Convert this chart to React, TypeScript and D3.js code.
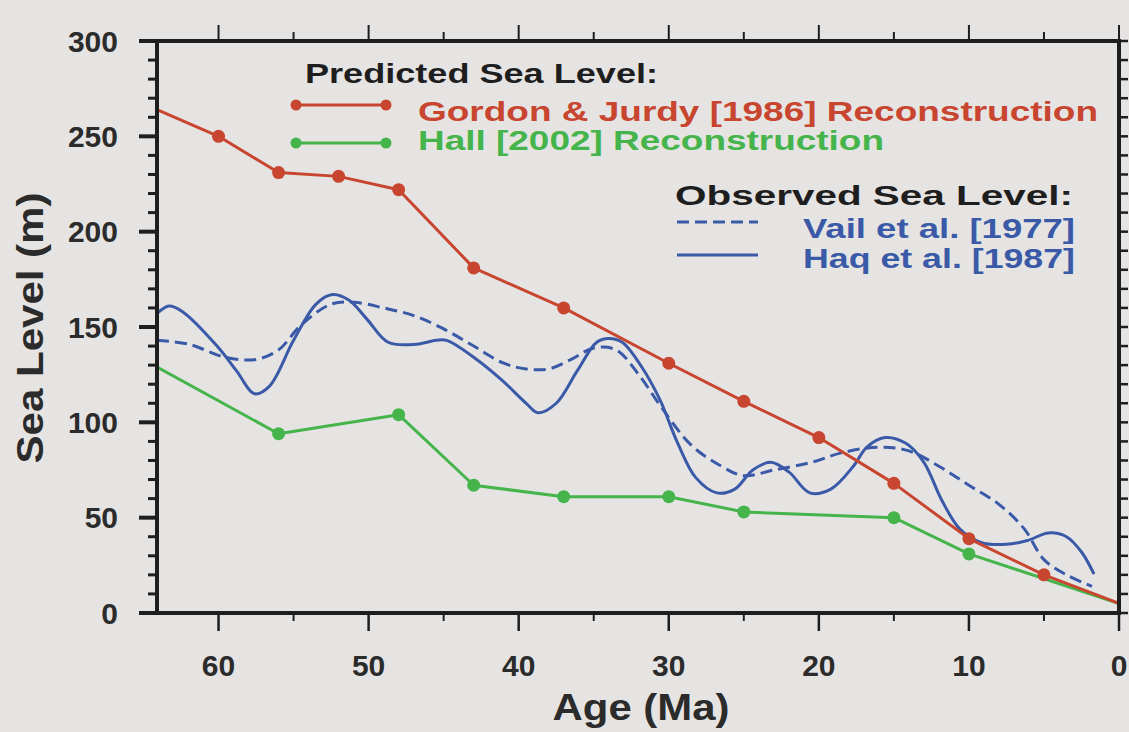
import React from "react";
import * as d3 from "d3";

// Predicted sea level (age Ma, metres)
const gordonAges = [64.1, 60, 56, 52, 48, 43, 37, 30, 25, 20, 15, 10, 5, 0];
const gordonLevels = [264, 250, 231, 229, 222, 181, 160, 131, 111, 92, 68, 39, 20, 5];
const hallAges = [64.1, 56, 48, 43, 37, 30, 25, 15, 10, 0];
const hallLevels = [129, 94, 104, 67, 61, 61, 53, 50, 31, 5];

// Observed sea level
const vailAges = [64.1, 62, 59.5, 57.5, 56, 54.5, 52.5, 51, 49, 47, 45, 43, 41, 39.5, 38, 36.5, 35, 33.5, 32, 30.5, 28.5, 26.5, 25, 23, 20.5, 18.5, 16, 14, 12, 10, 8, 6.3, 5, 3.5, 1.8];
const vailLevels = [143, 141, 134, 133, 138, 151, 162, 163, 160, 156, 149, 140, 131, 128, 128, 133, 139, 138, 125, 108, 88, 77, 72, 75, 79, 84, 87, 85, 77, 67, 57, 44, 28, 20, 14];
const haqAges = [64.1, 63.3, 62.4, 60.1, 58.8, 57.6, 56.6, 55, 53.5, 52.4, 51.3, 50.1, 48.7, 46.8, 45.5, 44.8, 42.8, 41.1, 39.5, 38.7, 37.5, 36.1, 34.8, 34, 33.1, 31.8, 30.6, 29.4, 28.2, 26.8, 25.6, 24.4, 23.2, 22, 20.6, 19.2, 17.7, 16.8, 15.6, 14.2, 13, 11.8, 10.6, 9.2, 7.5, 6.1, 4.7, 3.5, 2.5, 1.7];
const haqLevels = [157, 161, 158, 140, 127, 115, 119, 143, 162, 167, 164, 154, 142, 141, 143, 143, 133, 122, 110, 105, 110, 127, 142, 144, 142, 129, 112, 89, 71, 63, 65, 75, 79, 74, 63, 65, 77, 87, 92, 89, 79, 59, 44, 37, 36, 38, 42, 40, 32, 21];

const xMajor = [60, 50, 40, 30, 20, 10, 0];
const xMinor = [55, 45, 35, 25, 15, 5];
const yMajor = [0, 50, 100, 150, 200, 250, 300];

const RED = "#c8452f";
const GREEN = "#45b44b";
const BLUE = "#3a5aa8";
const INK = "#1e1e1e";

const zip = (a: number[], b: number[]) => a.map((v, i) => [v, b[i]] as [number, number]);

export default function App() {
  const width = 1129;
  const height = 732;
  const x = d3.scaleLinear().domain([64.1, 0]).range([157, 1119]);
  const y = d3.scaleLinear().domain([0, 300]).range([613, 41]);

  const straight = d3.line<[number, number]>().x((d) => x(d[0])).y((d) => y(d[1]));
  const smooth = d3
    .line<[number, number]>()
    .x((d) => x(d[0]))
    .y((d) => y(d[1]))
    .curve(d3.curveCatmullRom.alpha(0.5));

  const gordon = zip(gordonAges, gordonLevels);
  const hall = zip(hallAges, hallLevels);
  const yMinor = d3.range(0, 301, 10).filter((v) => v % 50 !== 0);

  const [x0, x1] = x.range();
  const [y0, y1] = y.range();
  const font = "'Liberation Sans', Arial, Helvetica, sans-serif";
  const dash = "12 6";

  return (
    <svg
      width={width}
      height={height}
      style={{ position: "fixed", left: 0, top: 0, background: "#e6e4e3", fontFamily: font }}
    >
      <defs>
        <clipPath id="plot">
          <rect x={x0} y={y1} width={x1 - x0} height={y0 - y1} />
        </clipPath>
      </defs>

      {/* ticks */}
      <g stroke={INK}>
        {xMajor.map((v) => (
          <g key={`xm${v}`}>
            <line x1={x(v)} x2={x(v)} y1={y0} y2={y0 + 18} strokeWidth={2.5} />
            <line x1={x(v)} x2={x(v)} y1={y1} y2={y1 - 16} strokeWidth={2} />
          </g>
        ))}
        {xMinor.map((v) => (
          <g key={`xn${v}`}>
            <line x1={x(v)} x2={x(v)} y1={y0} y2={y0 + 8} strokeWidth={2} />
            <line x1={x(v)} x2={x(v)} y1={y1} y2={y1 - 9} strokeWidth={2} />
          </g>
        ))}
        {yMajor.map((v) => (
          <g key={`ym${v}`}>
            <line x1={x0} x2={x0 - 18} y1={y(v)} y2={y(v)} strokeWidth={4} />
            <line x1={x1} x2={x1 + 9} y1={y(v)} y2={y(v)} strokeWidth={2.5} />
          </g>
        ))}
        {yMinor.map((v) => (
          <g key={`yn${v}`}>
            <line x1={x0} x2={x0 - 9} y1={y(v)} y2={y(v)} strokeWidth={3} />
            <line x1={x1} x2={x1 + 9} y1={y(v)} y2={y(v)} strokeWidth={2.5} />
          </g>
        ))}
      </g>

      {/* series */}
      <g clipPath="url(#plot)" fill="none" strokeLinejoin="round" strokeLinecap="round">
        <path d={smooth(zip(vailAges, vailLevels)) || ""} stroke={BLUE} strokeWidth={3} strokeDasharray={dash} strokeLinecap="butt" />
        <path d={smooth(zip(haqAges, haqLevels)) || ""} stroke={BLUE} strokeWidth={3} />
        <path d={straight(hall) || ""} stroke={GREEN} strokeWidth={3} />
        <path d={straight(gordon) || ""} stroke={RED} strokeWidth={3} />
        {hall.slice(1, -1).map((d, i) => (
          <circle key={`h${i}`} cx={x(d[0])} cy={y(d[1])} r={6.5} fill={GREEN} />
        ))}
        {gordon.slice(1, -1).map((d, i) => (
          <circle key={`g${i}`} cx={x(d[0])} cy={y(d[1])} r={6.5} fill={RED} />
        ))}
      </g>

      {/* frame */}
      <rect x={x0} y={y1} width={x1 - x0} height={y0 - y1} fill="none" stroke={INK} strokeWidth={4} />

      {/* tick labels */}
      <g fontSize={30} fontWeight="bold" fill="#2b2b2b">
        {yMajor.map((v) => (
          <text key={`yl${v}`} x={118} y={y(v)} dy="0.36em" textAnchor="end">
            {v}
          </text>
        ))}
        {xMajor.map((v) => (
          <text key={`xl${v}`} x={x(v)} y={676} textAnchor="middle">
            {v}
          </text>
        ))}
      </g>

      {/* axis titles */}
      <text x={641} y={720} textAnchor="middle" fontSize={36} fontWeight="bold" fill="#2b2b2b" textLength={177} lengthAdjust="spacingAndGlyphs">
        Age (Ma)
      </text>
      <text
        transform="translate(43,328) rotate(-90)"
        textAnchor="middle"
        fontSize={36}
        fontWeight="bold"
        fill="#2b2b2b"
        textLength={271}
        lengthAdjust="spacingAndGlyphs"
      >
        Sea Level (m)
      </text>

      {/* legend */}
      <g fontSize={28} fontWeight="bold">
        <text x={305} y={83} fill={INK} textLength={353} lengthAdjust="spacingAndGlyphs">Predicted Sea Level:</text>
        <line x1={296} x2={386} y1={105} y2={105} stroke={RED} strokeWidth={3} />
        <circle cx={296} cy={105} r={5.5} fill={RED} />
        <circle cx={386} cy={105} r={5.5} fill={RED} />
        <text x={418} y={121} fill={RED} textLength={680} lengthAdjust="spacingAndGlyphs">Gordon &amp; Jurdy [1986] Reconstruction</text>
        <line x1={296} x2={386} y1={143} y2={143} stroke={GREEN} strokeWidth={3} />
        <circle cx={296} cy={143} r={5.5} fill={GREEN} />
        <circle cx={386} cy={143} r={5.5} fill={GREEN} />
        <text x={418} y={150} fill={GREEN} textLength={466} lengthAdjust="spacingAndGlyphs">Hall [2002] Reconstruction</text>

        <text x={675} y={205} fill={INK} textLength={398} lengthAdjust="spacingAndGlyphs">Observed Sea Level:</text>
        <line x1={677} x2={758} y1={222} y2={222} stroke={BLUE} strokeWidth={3} strokeDasharray={dash} />
        <text x={803} y={238} fill={BLUE} textLength={272} lengthAdjust="spacingAndGlyphs">Vail et al. [1977]</text>
        <line x1={677} x2={758} y1={255} y2={255} stroke={BLUE} strokeWidth={3} />
        <text x={803} y={268} fill={BLUE} textLength={272} lengthAdjust="spacingAndGlyphs">Haq et al. [1987]</text>
      </g>
    </svg>
  );
}
